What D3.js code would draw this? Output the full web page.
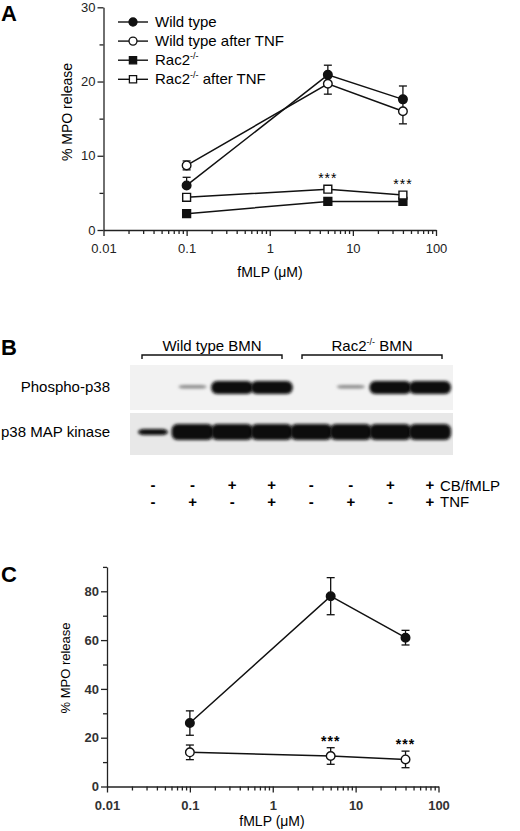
<!DOCTYPE html>
<html>
<head>
<meta charset="utf-8">
<script src="https://cdn.jsdelivr.net/npm/d3@7"></script>
<style>
	body { margin: 0; background: #fff; }
	svg { display: block; font-family: "Liberation Sans", Arial, sans-serif; }
	.axis path, .axis line { stroke: #222; stroke-width: 1.3; }
	.axis text { font-family: "Liberation Sans", Arial, sans-serif; font-size: 13px; fill: #222; }
</style>
</head>
<body>
<svg width="520" height="831"></svg>
<script>
// ---- data ----
var concA = [0.1, 5, 40];
var wtA = [6.0, 20.9, 17.6];
var wtAErr = [1.1, 1.3, 1.8];
var wtTnfA = [8.7, 19.7, 16.0];
var wtTnfAErr = [0.6, 1.4, 1.7];
var racA = [2.2, 3.85, 3.85];
var racAErr = [0.2, 0.2, 0.4];
var racTnfA = [4.4, 5.5, 4.7];
var racTnfAErr = [0.3, 0.3, 0.3];
var starsA = [5, 40];

var lanes = [1, 2, 3, 4, 5, 6, 7, 8];
var cbFmlp = ["-", "-", "+", "+", "-", "-", "+", "+"];
var tnf = ["-", "+", "-", "+", "-", "+", "-", "+"];
var phosphoLevel = [0, 0.25, 1, 1, 0, 0.2, 1, 1];
var totalLevel = [0.65, 1, 1, 1, 1, 1, 1, 1];

var concC = [0.1, 5, 40];
var wtC = [26, 78, 61];
var wtCErr = [5, 7.6, 3];
var racC = [14, 12.5, 11.1];
var racCErr = [3, 3.4, 3.4];
var starsC = [5, 40];

(function(){
	var svg = d3.select("svg");

	// blur for blot bands
	var defs = svg.append("defs");
	defs.append("filter").attr("id", "blur")
		.attr("x", "-30%").attr("y", "-80%").attr("width", "160%").attr("height", "260%")
		.append("feGaussianBlur").attr("stdDeviation", 1.6);

	function panelLetter(t, x, y){
		svg.append("text").text(t)
			.attr("x", x).attr("y", y)
			.style("font-size", "22px").style("font-weight", "bold");
	}

	function logAxis(g, x, y0){
		var minor = [];
		[0.01, 0.1, 1, 10].forEach(function(d){
			for(var k = 2; k < 10; k++) minor.push(d * k);
		});
		g.append("g").attr("class", "axis")
			.attr("transform", "translate(0," + y0 + ")")
			.call(d3.axisBottom(x).tickValues(minor).tickSize(4).tickFormat(""))
			.select(".domain").remove();
		g.append("g").attr("class", "axis")
			.attr("transform", "translate(0," + y0 + ")")
			.call(d3.axisBottom(x).tickValues([0.01, 0.1, 1, 10, 100])
				.tickSize(6).tickSizeOuter(0).tickFormat(d3.format("")))
			.selectAll("text").attr("dy", "1.1em");
	}

	function linAxis(g, y, x0, major, minor){
		g.append("g").attr("class", "axis")
			.attr("transform", "translate(" + x0 + ",0)")
			.call(d3.axisLeft(y).tickValues(minor).tickSize(4).tickFormat(""))
			.select(".domain").remove();
		g.append("g").attr("class", "axis")
			.attr("transform", "translate(" + x0 + ",0)")
			.call(d3.axisLeft(y).tickValues(major).tickSize(6).tickSizeOuter(0).tickPadding(2));
	}

	function series(g, x, y, xs, ys, errs, shape, filled, errDir){
		var pts = xs.map(function(d, i){ return {x: d, y: ys[i], e: errs[i]}; });
		g.append("path").datum(pts)
			.attr("fill", "none").attr("stroke", "#111").attr("stroke-width", 1.5)
			.attr("d", d3.line().x(function(d){ return x(d.x); }).y(function(d){ return y(d.y); }));
		var eb = g.selectAll(null).data(pts).enter().append("g")
			.attr("stroke", "#111").attr("stroke-width", 1.3);
		eb.each(function(d){
			var s = d3.select(this), cx = x(d.x);
			var top = errDir >= 0 ? y(d.y + d.e) : y(d.y);
			var bot = errDir <= 0 ? y(d.y - d.e) : y(d.y);
			s.append("line").attr("x1", cx).attr("x2", cx).attr("y1", top).attr("y2", bot);
			if(errDir >= 0) s.append("line").attr("x1", cx - 4).attr("x2", cx + 4).attr("y1", top).attr("y2", top);
			if(errDir <= 0) s.append("line").attr("x1", cx - 4).attr("x2", cx + 4).attr("y1", bot).attr("y2", bot);
		});
		var sym = shape === "circle" ? d3.symbolCircle : d3.symbolSquare;
		g.selectAll(null).data(pts).enter().append("path")
			.attr("transform", function(d){ return "translate(" + x(d.x) + "," + y(d.y) + ")"; })
			.attr("d", d3.symbol().type(sym).size(shape === "circle" ? 58 : 62))
			.attr("fill", filled ? "#111" : "#fff")
			.attr("stroke", "#111").attr("stroke-width", 1.4);
	}

	// ================= Panel A =================
	panelLetter("A", 1, 21);
	var gA = svg.append("g");
	var xA = d3.scaleLog().domain([0.01, 100]).range([103.5, 436]);
	var yA = d3.scaleLinear().domain([0, 30]).range([230, 7.3]);
	logAxis(gA, xA, 230);
	linAxis(gA, yA, 103.5, [0, 10, 20, 30], [5, 15, 25]);

	gA.append("text").text("% MPO release")
		.attr("transform", "translate(72,112) rotate(-90)")
		.attr("text-anchor", "middle").style("font-size", "14px");
	gA.append("text").text("fMLP (\u03bcM)").attr("x", 270).attr("y", 277)
		.attr("text-anchor", "middle").style("font-size", "14px");

	series(gA, xA, yA, concA, racA, racAErr, "square", true, -1);
	series(gA, xA, yA, concA, racTnfA, racTnfAErr, "square", false, 1);
	series(gA, xA, yA, concA, wtTnfA, wtTnfAErr, "circle", false, 0);
	series(gA, xA, yA, concA, wtA, wtAErr, "circle", true, 1);
	starsA.forEach(function(d){
		var j = concA.indexOf(d);
		gA.append("text").text("***")
			.attr("x", xA(d)).attr("y", yA(racTnfA[j]) - 6)
			.attr("text-anchor", "middle")
			.style("font-size", "14px").style("letter-spacing", "1px");
	});

	// legend
	var legItems = [
		{t: "Wild type", s: "circle", f: true},
		{t: "Wild type after TNF", s: "circle", f: false},
		{t: "Rac2", sup: "-/-", s: "square", f: true},
		{t: "Rac2", sup: "-/-", after: " after TNF", s: "square", f: false}
	];
	var leg = gA.selectAll(".leg").data(legItems).enter().append("g")
		.attr("transform", function(d, i){ return "translate(118," + (22 + i * 19.1) + ")"; });
	leg.append("line").attr("x1", 0).attr("x2", 30).attr("stroke", "#111").attr("stroke-width", 1.4);
	leg.append("path").attr("transform", "translate(15,0)")
		.attr("d", function(d){ return d3.symbol().type(d.s === "circle" ? d3.symbolCircle : d3.symbolSquare).size(d.s === "circle" ? 50 : 52)(); })
		.attr("fill", function(d){ return d.f ? "#111" : "#fff"; })
		.attr("stroke", "#111").attr("stroke-width", 1.3);
	var lt = leg.append("text").attr("x", 37).attr("y", 5).style("font-size", "15px");
	lt.each(function(d){
		var t = d3.select(this);
		t.append("tspan").text(d.t);
		if(d.sup) t.append("tspan").text(d.sup).attr("dy", -6).style("font-size", "9px");
		if(d.after) t.append("tspan").text(d.after).attr("dy", 6);
	});

	// ================= Panel B =================
	panelLetter("B", 1, 355);
	var gB = svg.append("g");
	var xB = d3.scalePoint().domain(lanes).range([153, 430]);
	var laneData = lanes.map(function(d, i){
		return {lane: d, p: phosphoLevel[i], t: totalLevel[i], cb: cbFmlp[i], tnf: tnf[i]};
	});
	gB.append("rect").attr("x", 130).attr("y", 365).attr("width", 323).attr("height", 45).attr("fill", "#f2f2f2");
	gB.append("rect").attr("x", 130).attr("y", 413).attr("width", 323).attr("height", 42).attr("fill", "#e8e8e8");

	gB.selectAll(".pb").data(laneData.filter(function(d){ return d.p > 0; })).enter().append("rect")
		.attr("x", function(d){ return xB(d.lane) - (d.p < 0.5 ? 14 : 21); })
		.attr("width", function(d){ return d.p < 0.5 ? 28 : 42; })
		.attr("y", function(d){ return d.p < 0.5 ? 385 : 381; })
		.attr("height", function(d){ return d.p < 0.5 ? 3.5 : 13; })
		.attr("rx", 6)
		.attr("fill", function(d){ return d.p < 0.5 ? "#8a8a8a" : "#0a0a0a"; })
		.attr("filter", "url(#blur)");
	gB.selectAll(".tb").data(laneData).enter().append("rect")
		.attr("x", function(d){ return xB(d.lane) - (d.t < 0.8 ? 15 : 21); })
		.attr("width", function(d){ return d.t < 0.8 ? 30 : 42; })
		.attr("y", function(d){ return d.t < 0.8 ? 429 : 424; })
		.attr("height", function(d){ return d.t < 0.8 ? 6 : 16; })
		.attr("rx", 6).attr("fill", "#080808").attr("filter", "url(#blur)");

	gB.append("text").text("Phospho-p38").attr("x", 110).attr("y", 392)
		.attr("text-anchor", "end").style("font-size", "15px");
	gB.append("text").text("p38 MAP kinase").attr("x", 110).attr("y", 437)
		.attr("text-anchor", "end").style("font-size", "15px");

	function bracket(x1, x2, label, sup, after){
		gB.append("path").attr("d", "M" + x1 + ",359V355H" + x2 + "V359")
			.attr("fill", "none").attr("stroke", "#111").attr("stroke-width", 1.4);
		var t = gB.append("text").attr("x", (x1 + x2) / 2).attr("y", 351)
			.attr("text-anchor", "middle").style("font-size", "15px");
		t.append("tspan").text(label);
		if(sup){
			t.append("tspan").text(sup).attr("dy", -6).style("font-size", "9px");
			t.append("tspan").text(after).attr("dy", 6);
		}
	}
	bracket(142, 282, "Wild type BMN");
	bracket(302, 442, "Rac2", "-/-", " BMN");

	gB.selectAll(".s1").data(laneData).enter().append("text")
		.text(function(d){ return d.cb; })
		.attr("x", function(d){ return xB(d.lane); }).attr("y", 490)
		.attr("text-anchor", "middle").style("font-size", "15px").style("font-weight", "bold");
	gB.selectAll(".s2").data(laneData).enter().append("text")
		.text(function(d){ return d.tnf; })
		.attr("x", function(d){ return xB(d.lane); }).attr("y", 507)
		.attr("text-anchor", "middle").style("font-size", "15px").style("font-weight", "bold");
	gB.append("text").text("CB/fMLP").attr("x", 440).attr("y", 491).style("font-size", "15px");
	gB.append("text").text("TNF").attr("x", 440).attr("y", 507).style("font-size", "15px");

	// ================= Panel C =================
	panelLetter("C", 1, 582);
	var gC = svg.append("g");
	var xC = d3.scaleLog().domain([0.01, 100]).range([107, 438.5]);
	var yC = d3.scaleLinear().domain([0, 90]).range([786.5, 566.9]);
	logAxis(gC, xC, 786.5);
	linAxis(gC, yC, 107, [0, 20, 40, 60, 80], [10, 30, 50, 70, 90]);
	gC.selectAll(".axis text").style("font-weight", "bold").style("fill", "#333");

	gC.append("text").text("% MPO release")
		.attr("transform", "translate(70,668) rotate(-90)")
		.attr("text-anchor", "middle").style("font-size", "13px");
	gC.append("text").text("fMLP (\u03bcM)").attr("x", 272).attr("y", 826)
		.attr("text-anchor", "middle").style("font-size", "14px");

	series(gC, xC, yC, concC, wtC, wtCErr, "circle", true, 0);
	series(gC, xC, yC, concC, racC, racCErr, "circle", false, 0);
	starsC.forEach(function(d){
		var j = concC.indexOf(d);
		gC.append("text").text("***")
			.attr("x", xC(d)).attr("y", yC(racC[j] + racCErr[j]) - 2)
			.attr("text-anchor", "middle")
			.style("font-size", "14px").style("font-weight", "bold").style("letter-spacing", "1px");
	});
})();
</script>
</body>
</html>
